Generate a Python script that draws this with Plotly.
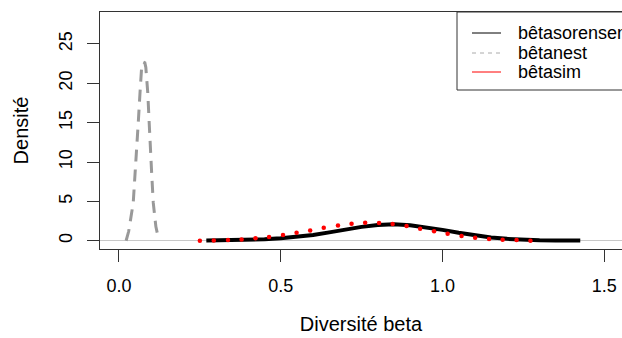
import plotly.graph_objects as go

# ---- data ----
sor_x = [0.27, 0.30, 0.35, 0.40, 0.45, 0.50, 0.55, 0.60, 0.65, 0.70, 0.75, 0.80,
         0.85, 0.90, 0.95, 1.00, 1.05, 1.10, 1.15, 1.20, 1.25, 1.30, 1.35, 1.40, 1.426]
sor_y = [0.03, 0.04, 0.07, 0.12, 0.19, 0.31, 0.48, 0.74, 1.06, 1.42, 1.76, 2.00,
         2.08, 1.97, 1.72, 1.38, 1.01, 0.68, 0.42, 0.24, 0.13, 0.07, 0.04, 0.03, 0.02]

nest_x = [0.022, 0.030, 0.044, 0.049, 0.055, 0.060, 0.065, 0.070, 0.075, 0.080,
          0.083, 0.089, 0.093, 0.096, 0.101, 0.106, 0.114, 0.122]
nest_y = [0.0, 1.2, 4.8, 8.6, 11.9, 15.3, 18.8, 22.0, 22.7, 22.6,
          22.0, 18.8, 15.3, 11.9, 8.6, 4.8, 1.8, 0.3]

sim_x = [0.250, 0.293, 0.337, 0.379, 0.422, 0.464, 0.507, 0.549, 0.591, 0.633,
         0.677, 0.719, 0.761, 0.804, 0.846, 0.889, 0.931, 0.974, 1.016, 1.059,
         1.101, 1.144, 1.186, 1.229, 1.272]
sim_y = [0.00, 0.04, 0.08, 0.17, 0.30, 0.47, 0.72, 1.02, 1.31, 1.65,
         1.95, 2.16, 2.29, 2.25, 2.12, 1.86, 1.53, 1.19, 0.89, 0.59,
         0.38, 0.21, 0.13, 0.08, 0.00]

x_ticks = [0.0, 0.5, 1.0, 1.5]
x_tick_labels = ["0.0", "0.5", "1.0", "1.5"]
y_ticks = [0, 5, 10, 15, 20, 25]
y_tick_labels = ["0", "5", "10", "15", "20", "25"]

legend_names = ["bêtasorensen", "bêtanest", "bêtasim"]

# ---- layout geometry (pixels) ----
W, H = 622, 338
ML, MR, MT, MB = 100, 0, 12, 89
PW, PH = W - ML - MR, H - MT - MB
FONT = "Liberation Sans, Arial, sans-serif"
FS = 18
FT = 20


def px_x(p):
    return (p - ML) / PW


def px_y(p):
    return (H - MB - p) / PH


fig = go.Figure()
fig.add_trace(go.Scatter(x=sor_x, y=sor_y, mode="lines", name=legend_names[0],
                         line=dict(color="black", width=4), showlegend=False))
fig.add_trace(go.Scatter(x=nest_x, y=nest_y, mode="lines", name=legend_names[1],
                         line=dict(color="#999999", width=3, dash="12px,8px"),
                         showlegend=False))
fig.add_trace(go.Scatter(x=sim_x, y=sim_y, mode="markers", name=legend_names[2],
                         marker=dict(color="red", size=4.5), showlegend=False))

shapes = []
annotations = []
# legend box (runs off the right edge as in the reference)
shapes.append(dict(type="rect", xref="paper", yref="paper",
                   x0=px_x(457), x1=px_x(700), y0=px_y(90), y1=px_y(12),
                   line=dict(color="#333333", width=1)))
leg_styles = [dict(color="black", width=1),
              dict(color="#aaaaaa", width=1, dash="4px,4px"),
              dict(color="red", width=1)]
leg_rows = [33, 53, 72]
for name, st, yy in zip(legend_names, leg_styles, leg_rows):
    shapes.append(dict(type="line", xref="paper", yref="paper",
                       x0=px_x(472), x1=px_x(501), y0=px_y(yy), y1=px_y(yy),
                       line=st))
    annotations.append(dict(text=name, xref="paper", yref="paper",
                            x=px_x(516), y=px_y(yy), xanchor="left", yanchor="middle",
                            showarrow=False, font=dict(family=FONT, size=FS, color="black")))

fig.update_layout(
    width=W, height=H,
    margin=dict(l=ML, r=MR, t=MT, b=MB, pad=0),
    paper_bgcolor="white", plot_bgcolor="white",
    font=dict(family=FONT, size=FS, color="black"),
    shapes=shapes, annotations=annotations,
    showlegend=False,
    xaxis=dict(range=[-0.0587, 1.555], tickvals=x_ticks, ticktext=x_tick_labels,
               showgrid=False, zeroline=False, showline=True, mirror=True,
               linecolor="#333333", linewidth=1,
               ticks="outside", ticklen=12, tickcolor="#333333", tickwidth=1,
               ticklabelstandoff=8,
               title=dict(text="Diversité beta", standoff=22,
                          font=dict(family=FONT, size=FT))),
    yaxis=dict(range=[-1.05, 29.06], tickvals=y_ticks, ticktext=y_tick_labels,
               showgrid=False, zeroline=True, zerolinecolor="#c8c8c8", zerolinewidth=1,
               showline=True, linecolor="#333333", linewidth=1,
               ticks="outside", ticklen=12, tickcolor="#333333", tickwidth=1,
               tickangle=-90, ticklabelstandoff=8,
               title=dict(text="Densité", standoff=21,
                          font=dict(family=FONT, size=FT))),
)

fig.write_html("out.html")
